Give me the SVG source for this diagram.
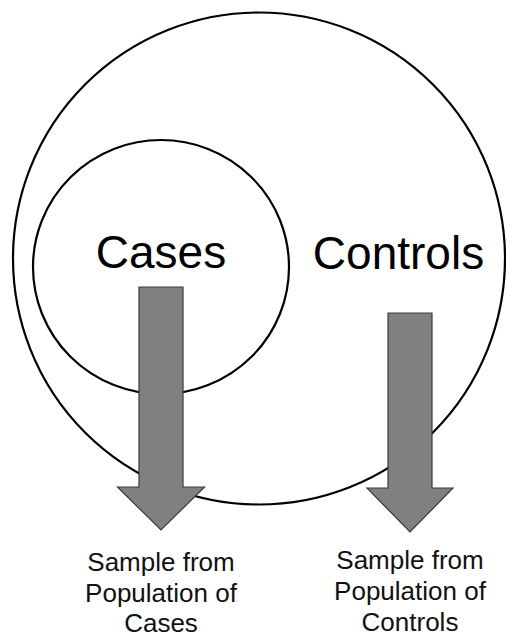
<svg xmlns="http://www.w3.org/2000/svg" width="506" height="638" viewBox="0 0 506 638">
<style>
.ring{fill:none;stroke:#000;stroke-width:2.2}
.arrow{fill:#808080;stroke:#3a3a3a;stroke-width:1.2}
.big{font-family:"Liberation Sans",Arial,sans-serif;font-size:46px;fill:#000;text-anchor:middle}
.lbl{font-family:"Liberation Sans",Arial,sans-serif;font-size:26px;fill:#111;text-anchor:middle}
</style>
<rect width="506" height="638" fill="#fff"/>
<g id="controls">
<circle class="ring" cx="259" cy="258.5" r="246"/>
<text class="big" x="398.5" y="269">Controls</text>
</g>
<g id="cases">
<ellipse class="ring" cx="161" cy="267" rx="128" ry="127"/>
<text class="big" x="161" y="268">Cases</text>
</g>
<g id="connectors">
<path class="arrow" d="M139,287 H183 V487 H204.5 L161,530 L117.5,487 H139 Z"/>
<path class="arrow" d="M388,313 H432 V488 H453 L410,532 L367,488 H388 Z"/>
</g>
<g id="label-cases">
<text class="lbl" x="161" y="571">Sample from</text>
<text class="lbl" x="161" y="602">Population of</text>
<text class="lbl" x="161" y="632">Cases</text>
</g>
<g id="label-controls">
<text class="lbl" x="410" y="569">Sample from</text>
<text class="lbl" x="410" y="600">Population of</text>
<text class="lbl" x="410" y="631">Controls</text>
</g>
</svg>
